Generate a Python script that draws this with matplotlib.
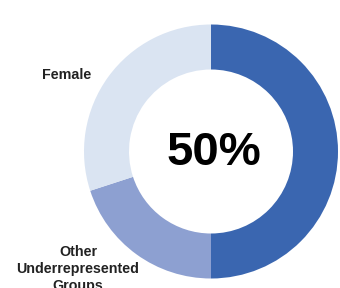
import matplotlib
matplotlib.use("Agg")
import matplotlib.pyplot as plt

groups = ["Underrepresented", "Other Underrepresented Groups", "Female"]
shares = [50, 20, 30]
colors = ["#3A66B0", "#8DA0D1", "#DAE4F2"]
center_label = "50%"

plt.rcParams['font.family'] = ['Liberation Sans', 'DejaVu Sans']

fig = plt.figure(figsize=(3.4, 2.88), dpi=100)
ax = fig.add_axes([0, 0, 1, 1])
ax.set_xlim(0, 340)
ax.set_ylim(0, 288)
ax.set_aspect('equal')
ax.axis('off')

ax.pie(shares, colors=colors, startangle=90, counterclock=False,
       center=(211, 136.5), radius=127,
       wedgeprops=dict(width=45, linewidth=0))
ax.set_xlim(0, 340)
ax.set_ylim(0, 288)

ax.text(214, 135, center_label, ha='center', va='center',
        fontsize=34, fontweight='bold', color='black')
ax.text(67, 213, "Female", ha='center', va='center',
        fontsize=10.3, fontweight='bold', color='#222222')
ax.text(78, 19, "Other\nUnderrepresented\nGroups", ha='center', va='center',
        fontsize=10.3, fontweight='bold', color='#222222', linespacing=1.3)

fig.savefig("out.png", dpi=100)
